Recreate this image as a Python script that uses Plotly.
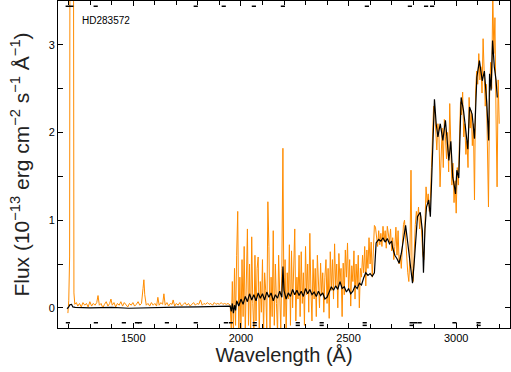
import plotly.graph_objects as go

# ---------------- data ----------------
STAR = "HD283572"

# short-wavelength camera part (observed flux, 1e-13 erg/cm2/s/A)
SWP_WAVE = [1196, 1200, 1204, 1207, 1220, 1224, 1228, 1235, 1242, 1250,
            1258, 1266, 1274, 1282, 1290, 1298, 1306, 1314, 1322, 1330,
            1336, 1342, 1350, 1358, 1366, 1374, 1382, 1390, 1396, 1402,
            1410, 1418, 1426, 1434, 1442, 1450, 1458, 1466, 1474, 1482,
            1490, 1498, 1506, 1514, 1522, 1530, 1538, 1545, 1549, 1553,
            1560, 1568, 1576, 1584, 1592, 1600, 1608, 1614, 1620, 1628,
            1636, 1642, 1648, 1656, 1664, 1672, 1680, 1685, 1692, 1700,
            1708, 1716, 1724, 1732, 1740, 1748, 1756, 1764, 1772, 1780,
            1788, 1796, 1804, 1812, 1820, 1828, 1836, 1844, 1852, 1860,
            1868, 1876, 1884, 1892, 1900, 1908, 1916, 1924, 1932, 1940,
            1950]
SWP_FLUX = [-0.06, 0.08, 0.58, 8.0, 8.0, 0.17, 0.04, 0.06, 0.02, 0.05,
            0.01, 0.06, 0.03, 0.05, 0.01, 0.07, 0.02, 0.05, 0.03, 0.06,
            0.14, 0.03, 0.05, 0.00, 0.04, 0.07, 0.02, 0.05, 0.10, 0.03,
            0.06, 0.01, 0.05, 0.03, 0.07, 0.02, 0.06, 0.04, 0.01, 0.05,
            0.03, 0.06, 0.02, 0.04, 0.07, 0.03, 0.05, 0.22, 0.32, 0.15,
            0.03, 0.05, 0.02, 0.06, 0.03, 0.05, 0.02, 0.12, 0.03, 0.06,
            0.04, 0.16, 0.03, 0.06, 0.02, 0.05, 0.04, 0.09, 0.02, 0.05,
            0.03, 0.06, 0.02, 0.04, 0.06, 0.03, 0.05, 0.02, 0.04, 0.06,
            0.03, 0.05, 0.04, 0.09, 0.03, 0.05, 0.04, 0.06, 0.04, 0.05,
            0.03, 0.06, 0.04, 0.05, 0.04, 0.06, 0.04, 0.05, 0.04, 0.05,
            0.03]

# long-wavelength camera part
LWP_WAVE = [1955, 1960, 1965, 1970, 1975, 1980, 1985, 1990, 1995, 2000,
            2005, 2010, 2015, 2020, 2025, 2030, 2035, 2040, 2045, 2050,
            2055, 2060, 2065, 2070, 2075, 2080, 2085, 2090, 2095, 2100,
            2105, 2110, 2115, 2120, 2125, 2130, 2135, 2140, 2145, 2150,
            2155, 2160, 2165, 2170, 2175, 2180, 2185, 2190, 2195, 2200,
            2205, 2210, 2215, 2220, 2225, 2230, 2235, 2240, 2245, 2250,
            2255, 2260, 2265, 2270, 2275, 2280, 2285, 2290, 2295, 2300,
            2305, 2310, 2315, 2320, 2325, 2330, 2335, 2340, 2345, 2350,
            2355, 2360, 2365, 2370, 2375, 2380, 2385, 2390, 2395, 2400,
            2405, 2410, 2415, 2420, 2425, 2430, 2435, 2440, 2445, 2450,
            2455, 2460, 2465, 2470, 2475, 2480, 2485, 2490, 2495, 2500,
            2505, 2510, 2515, 2520, 2525, 2530, 2535, 2540, 2545, 2550,
            2555, 2560, 2565, 2570, 2575, 2580, 2585, 2590, 2595, 2600,
            2605, 2610, 2615, 2620, 2625, 2630, 2635, 2640, 2645, 2650,
            2655, 2660, 2665, 2670, 2675, 2680, 2685, 2690, 2695, 2700,
            2705, 2710, 2715, 2720, 2725, 2730, 2735, 2740, 2745, 2750,
            2755, 2760, 2765, 2770, 2775, 2780, 2785, 2790, 2795, 2800,
            2805, 2810, 2815, 2820, 2825, 2830, 2835, 2840, 2845, 2850,
            2855, 2860, 2865, 2870, 2875, 2880, 2885, 2890, 2895, 2900,
            2905, 2910, 2915, 2920, 2925, 2930, 2935, 2940, 2945, 2950,
            2955, 2960, 2965, 2970, 2975, 2980, 2985, 2990, 2995, 3000,
            3005, 3010, 3015, 3020, 3025, 3030, 3035, 3040, 3045, 3050,
            3055, 3060, 3065, 3070, 3075, 3080, 3085, 3090, 3095, 3100,
            3105, 3110, 3115, 3120, 3125, 3130, 3135, 3140, 3145, 3150,
            3155, 3160, 3165, 3170, 3175, 3180, 3185, 3190, 3195, 3200]
LWP_FLUX = [-0.25, 0.30, -0.30, 0.45, -0.20, 0.60, 1.10, -0.30, 0.35, -0.25,
            0.55, -0.10, 0.70, -0.30, 0.40, 0.90, -0.20, 0.50, -0.30, 0.81,
            0.05, -0.30, 0.60, -0.15, 0.45, 0.58, -0.30, 0.30, -0.05, 0.55,
            -0.30, 0.40, 0.20, -0.25, 1.21, 0.70, -0.30, 0.35, -0.10, 0.88,
            -0.20, 0.50, 0.05, -0.30, 0.60, 0.15, -0.25, 0.45, 1.82, -0.10,
            0.55, -0.30, 0.40, 0.10, 0.72, -0.20, 0.65, 0.00, 0.45, 0.90,
            -0.15, 0.35, 0.10, 0.60, -0.10, 0.64, 0.05, 0.40, -0.20, 0.70,
            0.15, 0.50, -0.05, 0.85, 0.20, -0.15, 0.55, 0.10, 0.45, -0.10,
            0.60, 0.25, 0.00, 0.51, 0.15, 0.40, -0.05, 0.35, 0.55, 0.05,
            0.45, -0.12, 0.64, 0.20, 0.55, 0.10, 0.73, 0.25, 0.50, 0.00,
            0.62, 0.30, 0.45, -0.10, 0.51, 0.15, 0.66, 0.35, 0.74, 0.20,
            0.55, 0.02, 0.48, 0.30, 0.65, 0.10, 0.50, 0.25, 0.60, 0.00,
            0.45, 0.35, 0.60, 0.40, 0.70, 0.25, 0.66, 0.45, 0.80, 0.50,
            0.75, 0.35, 0.68, 0.94, 0.92, 0.80, 0.70, 0.88, 0.72, 0.85,
            0.70, 0.93, 0.76, 0.88, 0.68, 0.93, 0.82, 0.75, 0.90, 0.65,
            0.80, 0.55, 0.70, 0.92, 0.60, 0.88, 0.50, 0.60, 0.45, 0.80,
            0.95, 1.00, 0.75, 0.55, 0.40, 0.30, 0.60, 1.57, 0.45, 0.30,
            0.65, 0.95, 1.10, 1.00, 1.15, 0.90, 1.05, 0.85, 0.60, 0.55,
            1.05, 1.38, 1.20, 1.30, 1.10, 1.25, 1.60, 2.00, 2.30, 2.25,
            2.00, 1.80, 2.10, 1.95, 1.38, 1.75, 2.05, 1.60, 2.15, 1.95,
            1.70, 2.00, 1.55, 2.33, 1.80, 1.40, 1.65, 1.20, 1.45, 1.08,
            1.60, 1.40, 1.90, 2.35, 2.20, 2.46, 1.95, 2.10, 1.75, 1.90,
            1.60, 2.40, 2.05, 2.25, 1.85, 2.10, 1.23, 2.45, 2.70, 2.55,
            2.90, 2.60, 2.75, 2.45, 3.07, 2.60, 2.30, 2.55, 1.90, 1.15,
            2.40, 2.80, 2.50, 3.60, 2.90, 3.31, 2.20, 1.38, 2.60, 2.10]

# smoothed / comparison spectrum (black)
SMOOTH_WAVE = [1192, 1200, 1205, 1213, 1219, 1230, 1300, 1400, 1480, 1600,
               1700, 1800, 1900, 1948,
               1950, 1955, 1960, 1965, 1970, 1975, 1980, 1990, 2000, 2010,
               2020, 2030, 2040, 2050, 2060, 2070, 2080, 2090, 2100, 2110,
               2120, 2130, 2140, 2150, 2160, 2170, 2180, 2190, 2195, 2200,
               2210, 2220, 2230, 2240, 2250, 2260, 2270, 2280, 2290, 2300,
               2310, 2320, 2330, 2340, 2350, 2360, 2370, 2380, 2390, 2400,
               2410, 2420, 2430, 2440, 2450, 2460, 2470, 2480, 2490, 2500,
               2510, 2520, 2530, 2540, 2550, 2560, 2570, 2580, 2590, 2600,
               2610, 2620, 2628, 2640, 2650, 2660, 2670, 2680, 2690, 2700,
               2705, 2715, 2725, 2735, 2745, 2752, 2765, 2775, 2785, 2792,
               2797, 2805, 2812, 2820, 2833, 2843, 2848, 2855, 2862, 2872,
               2880, 2890, 2899, 2907, 2915, 2926, 2938, 2950, 2958, 2966,
               2975, 2984, 2992, 2997, 3003, 3012, 3023, 3034, 3043, 3054,
               3062, 3074, 3085, 3096, 3108, 3121, 3131, 3142, 3151, 3155,
               3162, 3169, 3177, 3185, 3191]
SMOOTH_FLUX = [-0.01, 0.01, 0.035, 0.04, 0.01, 0.005, 0.0, 0.005, -0.005, 0.005,
               0.008, 0.012, 0.018, 0.02,
               0.02, -0.04, 0.05, -0.06, 0.03, -0.03, 0.08, 0.02, 0.10, 0.04,
               0.13, 0.07, 0.16, 0.09, 0.15, 0.08, 0.17, 0.11, 0.16, 0.09,
               0.18, 0.12, 0.17, 0.08, 0.15, 0.11, 0.19, 0.12, 0.47, 0.20,
               0.10, 0.17, 0.13, 0.21, 0.15, 0.20, 0.14, 0.19, 0.13, 0.22,
               0.16, 0.21, 0.15, 0.18, 0.13, 0.19, 0.14, 0.17, 0.10, 0.12,
               0.19, 0.24, 0.20, 0.25, 0.21, 0.30, 0.22, 0.24, 0.18, 0.22,
               0.16, 0.19, 0.25, 0.22, 0.28, 0.26, 0.34, 0.40, 0.37, 0.39,
               0.36, 0.40, 0.74, 0.78, 0.76, 0.80, 0.75, 0.79, 0.73, 0.76,
               0.68, 0.60, 0.56, 0.51, 0.62, 0.72, 0.94, 0.74, 0.50, 0.32,
               0.28, 0.52, 0.80, 1.04, 1.09, 0.88, 0.40, 0.90, 1.15, 1.23,
               1.04, 1.80, 2.38, 2.10, 1.95, 2.10, 1.91, 2.14, 1.85, 1.68,
               1.90, 1.49, 1.38, 1.30, 1.57, 1.48, 2.40, 2.25, 2.06, 1.81,
               2.29, 2.21, 1.93, 2.63, 2.82, 2.59, 2.70, 2.34, 1.91, 2.67,
               2.48, 3.05, 2.75, 2.60, 2.40]

# data-quality flag positions (wavelengths)
TOP_FLAGS = [1195, 1212, 1325, 1790, 1920, 2060, 2195, 2585, 2785, 2860, 2888]
BOTTOM_FLAGS = [1196, 1326, 1456, 1517, 1530, 1656, 1790, 1930, 1953, 2064,
                2264, 2375, 2575, 2793, 2810, 2830, 2992, 3104]
BOTTOM_FLAGS_DOUBLE = [2064, 2264, 2375, 2575, 2793, 3104]

X_TICKS = [1500, 2000, 2500, 3000]
Y_TICKS = [0, 1, 2, 3]

# ---------------- figure ----------------
fig = go.Figure()
fig.add_trace(go.Scatter(x=SWP_WAVE + LWP_WAVE, y=SWP_FLUX + LWP_FLUX,
                         mode="lines", line=dict(color="#ff8c00", width=1),
                         hoverinfo="skip"))
fig.add_trace(go.Scatter(x=SMOOTH_WAVE, y=SMOOTH_FLUX, mode="lines",
                         line=dict(color="black", width=1.2), hoverinfo="skip"))

flag_marker = dict(symbol="line-ew", size=3, line=dict(color="black", width=1.5))
fig.add_trace(go.Scatter(x=TOP_FLAGS, y=[3.44] * len(TOP_FLAGS), mode="markers",
                         marker=flag_marker, hoverinfo="skip"))
fig.add_trace(go.Scatter(x=BOTTOM_FLAGS, y=[-0.17] * len(BOTTOM_FLAGS), mode="markers",
                         marker=flag_marker, hoverinfo="skip"))
fig.add_trace(go.Scatter(x=BOTTOM_FLAGS_DOUBLE, y=[-0.2] * len(BOTTOM_FLAGS_DOUBLE),
                         mode="markers", marker=flag_marker, hoverinfo="skip"))

fig.add_annotation(text=STAR, x=1250, y=3.28, xref="x", yref="y",
                   xanchor="left", yanchor="middle", showarrow=False,
                   font=dict(size=10, color="black"))

fig.update_layout(
    width=511, height=372,
    margin=dict(l=58, r=1, t=1, b=44),
    paper_bgcolor="white", plot_bgcolor="white",
    showlegend=False,
    font=dict(family="Liberation Sans, Arial, sans-serif", color="black"),
)
fig.update_xaxes(
    range=[1150, 3250], tickmode="linear", tick0=X_TICKS[0],
    dtick=X_TICKS[1] - X_TICKS[0], automargin=False,
    ticks="inside", ticklen=5, tickcolor="black", tickwidth=1,
    minor=dict(tickmode="linear", tick0=1100, dtick=100, ticks="inside",
               ticklen=4, tickcolor="black", showgrid=False),
    showline=True, linecolor="black", linewidth=1, mirror="allticks",
    showgrid=False, zeroline=False, tickfont=dict(size=11),
    title=dict(text="Wavelength (Å)", font=dict(size=20, color="#222"), standoff=3),
)
fig.update_yaxes(
    range=[-0.23, 3.5], tickmode="linear", tick0=Y_TICKS[0],
    dtick=Y_TICKS[1] - Y_TICKS[0], automargin=False,
    ticks="inside", ticklen=5, tickcolor="black", tickwidth=1,
    minor=dict(tickmode="linear", tick0=0, dtick=0.5, ticks="inside",
               ticklen=5, tickcolor="black", showgrid=False),
    showline=True, linecolor="black", linewidth=1, mirror="allticks",
    showgrid=False, zeroline=False, tickfont=dict(size=11),
    title=dict(text="Flux (10<sup>−13</sup> erg cm<sup>−2</sup> s<sup>−1</sup> Å<sup>−1</sup>)",
               font=dict(size=21, color="#222"), standoff=13),
)

fig.write_html("out.html", config={"displayModeBar": False},
               post_script="document.body.style.margin='0';document.body.style.overflow='hidden';")
